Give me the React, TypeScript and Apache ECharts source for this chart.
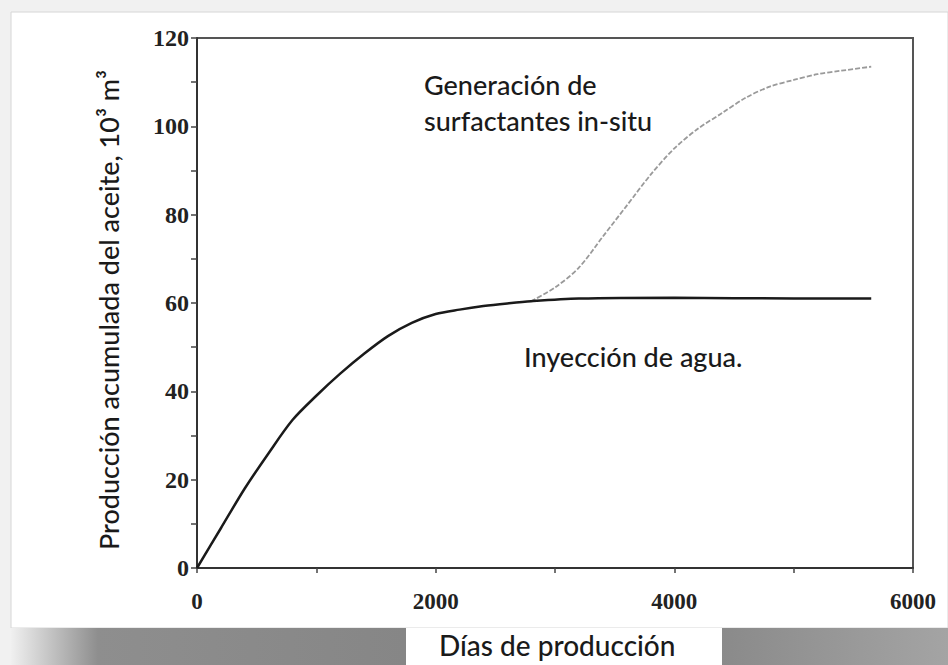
import React, { useEffect, useRef } from "react";
import * as echarts from "echarts";

const waterDays = [0, 200, 400, 600, 800, 1000, 1200, 1400, 1600, 1800, 2000, 2200, 2400, 2600, 2800, 3200, 4000, 5000, 5650];
const waterOil = [0, 9, 18, 26, 33.5, 39, 44, 48.5, 52.5, 55.5, 57.5, 58.5, 59.3, 59.9, 60.4, 61, 61.2, 61, 61];

const surfDays = [2800, 3000, 3200, 3400, 3600, 3800, 4000, 4200, 4400, 4600, 4800, 5000, 5200, 5400, 5650];
const surfOil = [60.4, 63.5, 68, 75, 82, 89, 95, 99.5, 103, 106.5, 109, 110.5, 111.8, 112.6, 113.5];

const xTickLabels = [0, 2000, 4000, 6000];
const yTickLabels = [0, 20, 40, 60, 80, 100, 120];

const pairs = (xs: number[], ys: number[]) => xs.map((x, i) => [x, ys[i]]);

export default function App() {
  const ref = useRef<HTMLDivElement>(null);
  useEffect(() => {
    if (!ref.current) return;
    const chart = echarts.init(ref.current, null, { renderer: "svg" });
    const serif = "'Liberation Serif', 'DejaVu Serif', serif";
    const sans = "Lato, 'Open Sans', sans-serif";
    chart.setOption({
      animation: false,
      backgroundColor: "#f1f1f1",
      grid: {
        left: 197,
        top: 38,
        width: 716,
        height: 530,
        show: true,
        backgroundColor: "transparent",
        borderColor: "#555",
        borderWidth: 2,
      },
      graphic: [
        { type: "rect", z: -10, shape: { x: 11, y: 12, width: 937, height: 616 }, style: { fill: "#ffffff", stroke: "#d6d6d6", lineWidth: 1 }, silent: true },
        {
          type: "rect", z: -10, shape: { x: 11, y: 628, width: 395, height: 37 }, silent: true,
          style: { fill: new echarts.graphic.LinearGradient(0, 0, 1, 0, [{ offset: 0, color: "#f0f0f0" }, { offset: 0.22, color: "#8e8e8e" }, { offset: 1, color: "#868686" }]) },
        },
        {
          type: "rect", z: -10, shape: { x: 722, y: 628, width: 226, height: 37 }, silent: true,
          style: { fill: new echarts.graphic.LinearGradient(0, 0, 1, 0, [{ offset: 0, color: "#8a8a8a" }, { offset: 1, color: "#a4a4a4" }]) },
        },
        { type: "rect", z: -10, shape: { x: 406, y: 628, width: 316, height: 37 }, style: { fill: "#ffffff" }, silent: true },
        {
          type: "text", left: 424, top: 66, silent: true,
          style: { text: "Generación de\nsurfactantes in-situ", font: `500 27px ${sans}`, fill: "#1a1a1a", lineHeight: 36 },
        },
        {
          type: "text", left: 524, top: 343, silent: true,
          style: { text: "Inyección de agua.", font: `500 27px ${sans}`, fill: "#1a1a1a" },
        },
        {
          type: "text", left: 439, top: 631, silent: true,
          style: { text: "Días de producción", font: `500 28px ${sans}`, fill: "#1a1a1a" },
        },
        {
          type: "text", x: 108, y: 310, rotation: Math.PI / 2, silent: true,
          style: { text: "Producción acumulada del aceite, 10³ m³", font: `500 27px ${sans}`, fill: "#1a1a1a", align: "center", verticalAlign: "middle" },
        },
      ],
      xAxis: {
        type: "value",
        min: 0,
        max: 6000,
        interval: 1000,
        splitLine: { show: false },
        axisLine: { show: true, onZero: false, lineStyle: { color: "#333", width: 2 } },
        axisTick: { show: true, length: 5, lineStyle: { color: "#444", width: 1.5 } },
        axisLabel: {
          margin: 22,
          color: "#222",
          fontFamily: serif,
          fontWeight: "bold",
          fontSize: 23,
          formatter: (v: number) => (xTickLabels.includes(v) ? String(v) : ""),
        },
      },
      yAxis: {
        type: "value",
        min: 0,
        max: 120,
        interval: 10,
        splitLine: { show: false },
        axisLine: { show: true, onZero: false, lineStyle: { color: "#333", width: 2 } },
        axisTick: { show: true, length: 6, lineStyle: { color: "#444", width: 1.5 } },
        axisLabel: {
          margin: 8,
          color: "#222",
          fontFamily: serif,
          fontWeight: "bold",
          fontSize: 24,
          formatter: (v: number) => (yTickLabels.includes(v) ? String(v) : ""),
        },
      },
      series: [
        {
          type: "line",
          name: "Generación de surfactantes in-situ",
          data: pairs(surfDays, surfOil),
          smooth: 0.3,
          showSymbol: false,
          lineStyle: { color: "#9a9a9a", width: 1.8, type: [5, 2] },
        },
        {
          type: "line",
          name: "Inyección de agua",
          data: pairs(waterDays, waterOil),
          smooth: 0.3,
          showSymbol: false,
          lineStyle: { color: "#1a1a1a", width: 2.5 },
        },
      ],
    });
    return () => chart.dispose();
  }, []);
  return <div ref={ref} style={{ position: "fixed", left: 0, top: 0, width: 948, height: 665 }} />;
}
